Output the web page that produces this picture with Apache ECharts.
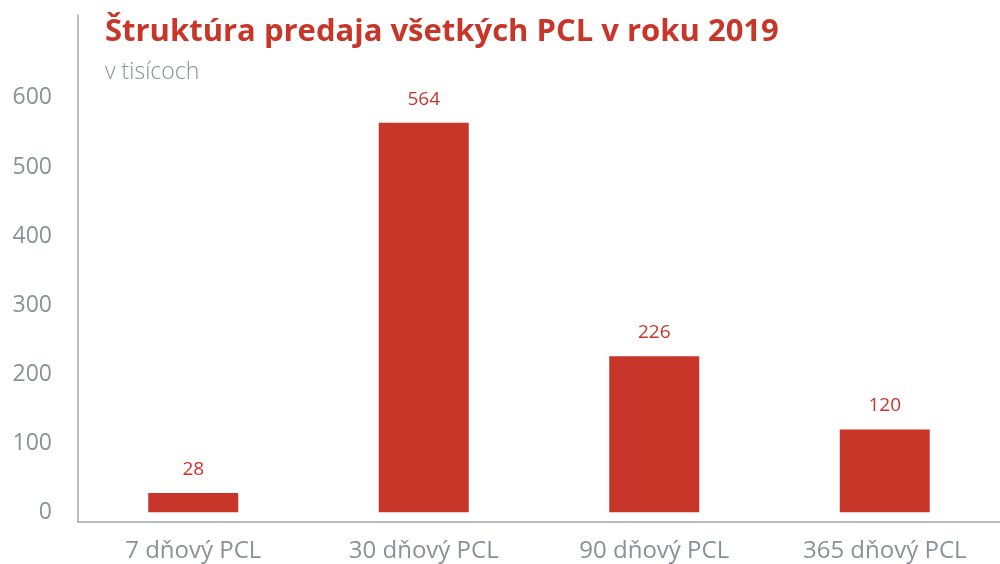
<!DOCTYPE html>
<html>
<head>
<meta charset="utf-8">
<script src="https://cdn.jsdelivr.net/npm/echarts@6/dist/echarts.min.js"></script>
<style>
  html, body { margin: 0; padding: 0; background: #fff; }
  #chart { width: 1000px; height: 564px; }
</style>
</head>
<body>
<div id="chart"></div>
<script>
var categories = ['7 dňový PCL', '30 dňový PCL', '90 dňový PCL', '365 dňový PCL'];
var sales = [28, 564, 226, 120];
var yTicks = [0, 100, 200, 300, 400, 500, 600];

var red = '#c8362a';
var grey = '#8b9099';
var font = '"Open Sans", "Noto Sans", sans-serif';

var myChart = echarts.init(document.getElementById('chart'));
var chartOption = {
    animation: false,
    title: {
        text: 'Štruktúra predaja všetkých PCL v roku 2019',
        subtext: 'v tisícoch',
        left: 100,
        top: 12,
        itemGap: 13,
        textStyle: { color: red, fontSize: 31, fontWeight: 'bold', fontFamily: font },
        subtextStyle: { color: grey, fontSize: 23, fontWeight: 300, fontFamily: font }
    },
    grid: { left: 78, right: 0, top: 15, bottom: 42 },
    xAxis: {
        type: 'category',
        data: categories,
        axisLine: { onZero: false, lineStyle: { color: '#a3a7ae', width: 1.5 } },
        axisTick: { show: false },
        axisLabel: { color: grey, fontSize: 24, margin: 17, fontFamily: font }
    },
    yAxis: {
        type: 'value',
        min: -14,
        max: 720,
        splitLine: { show: false },
        axisTick: { show: false },
        axisLine: { show: true, lineStyle: { color: '#a3a7ae', width: 1.5 } },
        axisLabel: {
            customValues: yTicks,
            color: grey,
            fontSize: 23,
            margin: 26,
            fontFamily: font
        }
    },
    series: [{
        type: 'bar',
        data: sales,
        barWidth: 90,
        itemStyle: { color: red },
        label: {
            show: true,
            position: 'top',
            distance: 14,
            color: red,
            fontSize: 19,
            fontFamily: font
        }
    }]
};
myChart.setOption(chartOption);
</script>
</body>
</html>
